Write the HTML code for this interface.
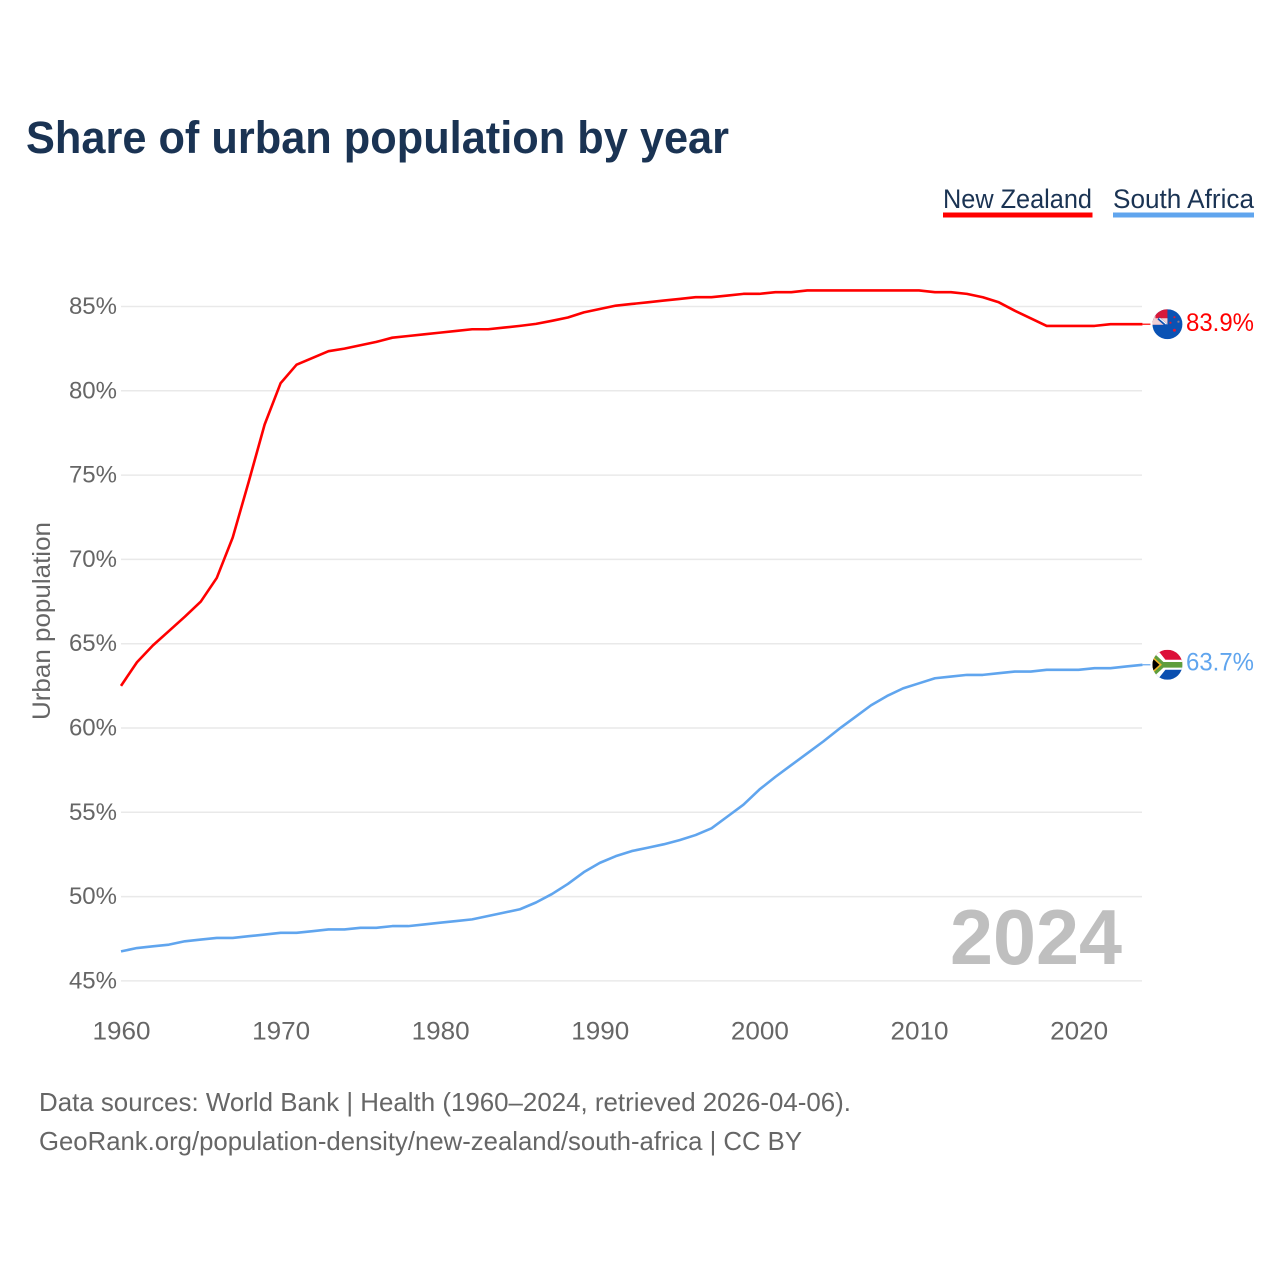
<!DOCTYPE html>
<html lang="en">
<head>
<meta charset="utf-8">
<title>Share of urban population by year</title>
<style>
html,body{margin:0;padding:0;background:#fff;}
svg{display:block;}
text{font-family:"Liberation Sans",sans-serif;}
</style>
</head>
<body>
<svg id="chart" xmlns="http://www.w3.org/2000/svg" width="1280" height="1280" viewBox="0 0 1280 1280">
  <defs>
    <clipPath id="flag-clip-nz"><circle cx="0" cy="0" r="15"/></clipPath>
    <clipPath id="flag-clip-za"><circle cx="0" cy="0" r="15"/></clipPath>
  </defs>
  <rect width="1280" height="1280" fill="#fff"/>
  <text x="26" y="153" font-size="45" font-weight="700" fill="#1a3353" textLength="703" lengthAdjust="spacingAndGlyphs">Share of urban population by year</text>

  <g>
    <g>
      <text x="943" y="208" font-size="27" fill="#1a3353" textLength="149" lengthAdjust="spacingAndGlyphs">New Zealand</text>
      <rect x="943" y="212.5" width="149.500" height="5" fill="#ff0000"/>
    </g>
    <g>
      <text x="1113" y="208" font-size="27" fill="#1a3353" textLength="141" lengthAdjust="spacingAndGlyphs">South Africa</text>
      <rect x="1113" y="212.5" width="141" height="5" fill="#60a5ee"/>
    </g>
  </g>

  <g id="grid"></g>
  <g id="y-ticks"></g>
  <g id="x-ticks"></g>

  <text transform="translate(50,621) rotate(-90)" text-anchor="middle" font-size="25" fill="#666666" textLength="198" lengthAdjust="spacingAndGlyphs">Urban population</text>

  <text x="1122" y="964" text-anchor="end" font-size="78" font-weight="700" fill="#bfbfbf" textLength="172" lengthAdjust="spacingAndGlyphs">2024</text>

  <g id="series"></g>
  <g id="end-markers"></g>

  <g>
    <text x="39" y="1111" font-size="26" fill="#666666" textLength="812" lengthAdjust="spacingAndGlyphs">Data sources: World Bank | Health (1960–2024, retrieved 2026-04-06).</text>
    <text x="39" y="1150" font-size="26" fill="#666666" textLength="763" lengthAdjust="spacingAndGlyphs">GeoRank.org/population-density/new-zealand/south-africa | CC BY</text>
  </g>
</svg>

<script>
const firstYear = 1960;
const yTickValues = [45, 50, 55, 60, 65, 70, 75, 80, 85];
const xTickValues = [1960, 1970, 1980, 1990, 2000, 2010, 2020];
const newZealandValues = [
  62.5, 63.9, 64.9, 65.75, 66.6, 67.5, 68.9, 71.3, 74.6, 78.0,
  80.45, 81.55, 81.95, 82.35, 82.5, 82.7, 82.9, 83.15, 83.25, 83.35,
  83.45, 83.55, 83.65, 83.65, 83.75, 83.85, 83.97, 84.15, 84.35, 84.65,
  84.85, 85.05, 85.15, 85.25, 85.35, 85.45, 85.55, 85.55, 85.65, 85.75,
  85.75, 85.85, 85.85, 85.95, 85.95, 85.95, 85.95, 85.95, 85.95, 85.95,
  85.95, 85.85, 85.85, 85.75, 85.55, 85.25, 84.75, 84.3, 83.85, 83.85,
  83.85, 83.85, 83.95, 83.95, 83.95
];
const southAfricaValues = [
  46.75, 46.95, 47.05, 47.15, 47.35, 47.45, 47.55, 47.55, 47.65, 47.75,
  47.85, 47.85, 47.95, 48.05, 48.05, 48.15, 48.15, 48.25, 48.25, 48.35,
  48.45, 48.55, 48.65, 48.85, 49.05, 49.25, 49.65, 50.15, 50.75, 51.45,
  52.0, 52.4, 52.7, 52.9, 53.1, 53.35, 53.65, 54.05, 54.75, 55.45,
  56.35, 57.1, 57.8, 58.5, 59.2, 59.95, 60.65, 61.35, 61.9, 62.35,
  62.65, 62.95, 63.05, 63.15, 63.15, 63.25, 63.35, 63.35, 63.45, 63.45,
  63.45, 63.55, 63.55, 63.65, 63.75
];
const newZealandEndLabel = "83.9%";
const southAfricaEndLabel = "63.7%";

const SVG_NS = "http://www.w3.org/2000/svg";
function xScale(year) { return 121 + (year - 1960) * 15.96; }
function yScale(v) { return 306.5 + (85 - v) * 16.86; }
function make(tag, attrs, parent) {
  const el = document.createElementNS(SVG_NS, tag);
  Object.keys(attrs).forEach(function (k) { el.setAttribute(k, attrs[k]); });
  parent.appendChild(el);
  return el;
}

const gridGroup = document.getElementById("grid");
const yTickGroup = document.getElementById("y-ticks");
yTickValues.forEach(function (v) {
  const line = make("line", { x1: 121, x2: 1142, y1: yScale(v), y2: yScale(v), stroke: "#e9e9e9", "stroke-width": 1.5 }, gridGroup);
  
  
  const label = make("text", { x: 117, y: yScale(v) + 7.500, "text-anchor": "end", "font-size": 24, fill: "#666666" }, yTickGroup);
  
  
  label.textContent = v + "%";
});

const xTickGroup = document.getElementById("x-ticks");
xTickValues.forEach(function (year) {
  const label = make("text", { x: xScale(year) + 0.5, y: 1039.5, "text-anchor": "middle", "font-size": 25, fill: "#666666", textLength: 58, lengthAdjust: "spacingAndGlyphs" }, xTickGroup);
  
  
  label.textContent = String(year);
});

function linePath(values) {
  return values.map(function (v, i) {
    return (i ? "L" : "M") + xScale(firstYear + i).toFixed(2) + " " + yScale(v).toFixed(2);
  }).join(" ");
}

const seriesGroup = document.getElementById("series");
const nzLine = make("path", { d: linePath(newZealandValues), fill: "none", stroke: "#ff0000", "stroke-width": 2.6, "stroke-linejoin": "round" }, seriesGroup);


const zaLine = make("path", { d: linePath(southAfricaValues), fill: "none", stroke: "#60a5ee", "stroke-width": 2.6, "stroke-linejoin": "round" }, seriesGroup);



const markers = document.getElementById("end-markers");
const lastYear = firstYear + newZealandValues.length - 1;
const markerX = xScale(lastYear) + 25;

/* New Zealand end marker */
const nzY = yScale(newZealandValues[newZealandValues.length - 1]);
const nzStub = make("line", { x1: xScale(lastYear), x2: markerX - 17, y1: nzY, y2: nzY, stroke: "#ff0000", "stroke-width": 1.2 }, markers);


const nzFlag = make("g", { transform: "translate(" + markerX + "," + nzY + ")", "clip-path": "url(#flag-clip-nz)" }, markers);


make("rect", { x: -15, y: -15, width: 30, height: 30, fill: "#0a52b4" }, nzFlag);
make("rect", { x: -15, y: -15, width: 15, height: 15.5, fill: "#d8193a" }, nzFlag);
make("path", { d: "M-15 -15H-12V-6H0V0.5H-15Z", fill: "#f3e4e6", opacity: 0.9 }, nzFlag);
make("path", { d: "M-9 -6L-1 1", stroke: "#0a52b4", "stroke-width": 3 }, nzFlag);
make("path", { d: "M-8 -6L-1 0", stroke: "#fff", "stroke-width": 1.2 }, nzFlag);
make("circle", { cx: 3, cy: -1.5, r: 1.1, fill: "#d8193a" }, nzFlag);
make("circle", { cx: 7, cy: -7, r: 1.1, fill: "#d8193a" }, nzFlag);
make("circle", { cx: 11, cy: -2.5, r: 1.1, fill: "#8f7a8a" }, nzFlag);
make("circle", { cx: 7, cy: 6, r: 1.5, fill: "#d8193a" }, nzFlag);
const nzLabel = make("text", { x: 1186, y: nzY + 7, "font-size": 25, fill: "#ff0000", textLength: 68, lengthAdjust: "spacingAndGlyphs" }, markers);


nzLabel.textContent = newZealandEndLabel;

/* South Africa end marker */
const zaY = yScale(southAfricaValues[southAfricaValues.length - 1]);
const zaStub = make("line", { x1: xScale(lastYear), x2: markerX - 17, y1: zaY, y2: zaY, stroke: "#60a5ee", "stroke-width": 1.2 }, markers);


const zaFlag = make("g", { transform: "translate(" + markerX + "," + zaY + ")", "clip-path": "url(#flag-clip-za)" }, markers);


make("rect", { x: -15, y: -15, width: 30, height: 15, fill: "#dc0f38" }, zaFlag);
make("rect", { x: -15, y: 0, width: 30, height: 15, fill: "#0a4fb0" }, zaFlag);
make("path", { d: "M-15 -15H-10L-2 -5H15V5H-2L-10 15H-15Z", fill: "#fff" }, zaFlag);
make("path", { d: "M-15 -13L-4 -2.800H15V2.800H-4L-15 13Z", fill: "#5f9e3c" }, zaFlag);
make("path", { d: "M-15 -8.500L-5.500 0L-15 8.500Z", fill: "#f0b429" }, zaFlag);
make("path", { d: "M-15 -6.500L-8 0L-15 6.500Z", fill: "#000" }, zaFlag);
const zaLabel = make("text", { x: 1186, y: zaY + 5.500, "font-size": 25, fill: "#60a5ee", textLength: 68, lengthAdjust: "spacingAndGlyphs" }, markers);


zaLabel.textContent = southAfricaEndLabel;
</script>
</body>
</html>
